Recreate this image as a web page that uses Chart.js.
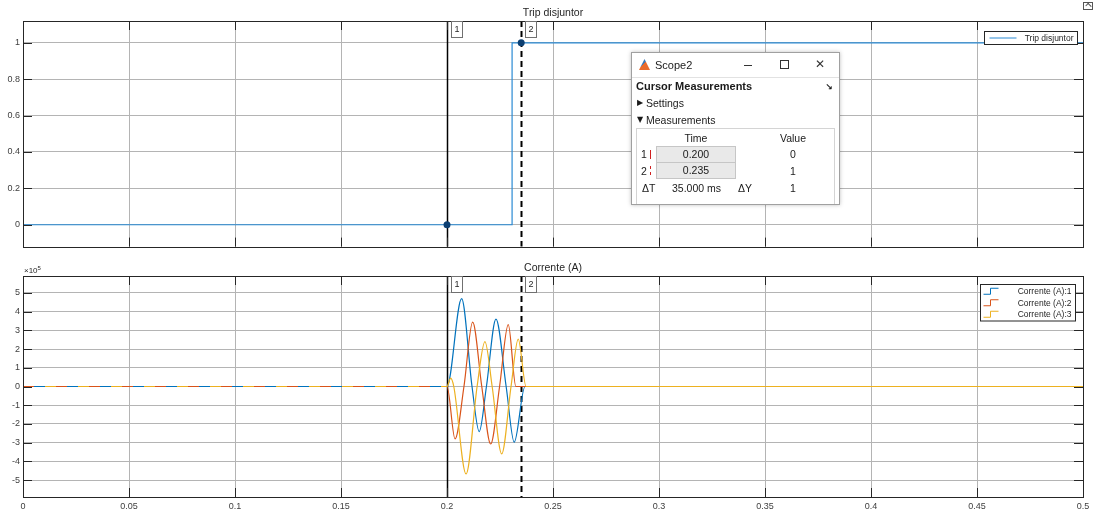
<!DOCTYPE html>
<html>
<head>
<meta charset="utf-8">
<title>Scope2</title>
<script src="https://cdn.jsdelivr.net/npm/chart.js@4.4.1/dist/chart.umd.min.js"></script>
<style>
    body {
        margin: 0;
        width: 1094px;
        height: 513px;
        overflow: hidden;
        background: #fff;
        position: relative;
        font-family: "Liberation Sans", Arial, sans-serif;
        color: #1a1a1a;
    }
    .plot { position: absolute; left: 0; width: 1094px; }
    #tripBox { top: 0; height: 255px; }
    #currentBox { top: 255px; height: 258px; }
    .a { position: absolute; white-space: nowrap; }

    .dock { left: 1083px; top: 2px; width: 8px; height: 6px; border: 1px solid #555; }
    .dock i { position: absolute; left: 2px; top: 1px; width: 4px; height: 3px; border-top: 1px solid #555; border-left: 1px solid #555; transform: rotate(45deg); }

    .dialog {
        left: 631px; top: 52px; width: 209px; height: 153px;
        box-sizing: border-box;
        border: 1px solid #a0a0a0;
        background: #fff;
        box-shadow: 0 0 4px rgba(0, 0, 0, 0.25);
        overflow: hidden;
        font-size: 10.5px;
        line-height: 14px;
    }
    .titlebar { left: 0; top: 0; width: 207px; height: 24px; border-bottom: 1px solid #e2e2e2; }
    .logo { left: 7px; top: 6px; width: 11px; height: 11px; background: linear-gradient(135deg, #3a78b8 0 45%, #e86a2c 45% 100%); clip-path: polygon(0 100%, 50% 0, 100% 100%); }
    .btn-min { left: 112px; top: 12px; width: 8px; height: 1px; background: #333; }
    .btn-max { left: 148px; top: 7px; width: 7px; height: 7px; border: 1px solid #333; }
    .btn-close { left: 183px; top: 4px; font-size: 12px; font-family: "DejaVu Sans", sans-serif; color: #333; }
    .tri { font-size: 8px; font-family: "DejaVu Sans", sans-serif; }
    .table { left: 4px; top: 75px; width: 199px; height: 90px; border: 1px solid #d4d4d4; box-sizing: border-box; }
    .c { text-align: center; width: 40px; }
    .field { width: 78px; height: 15px; line-height: 15px; background: #e9e9e9; border: 1px solid #c6c6c6; text-align: center; }
</style>
</head>
<body>
<div id="tripBox" class="plot"><canvas id="tripChart" width="1094" height="255"></canvas></div>
<div id="currentBox" class="plot"><canvas id="currentChart" width="1094" height="258"></canvas></div>

<div class="a dock"><i></i></div>

<div class="a dialog">
    <div class="a titlebar">
        <div class="a logo"></div>
        <span class="a" style="left:23px; top:5px; font-size:11px;">Scope2</span>
        <div class="a btn-min"></div>
        <div class="a btn-max"></div>
        <span class="a btn-close">✕</span>
    </div>
    <span class="a" style="left:4px; top:26px; font-weight:bold; font-size:11px;">Cursor Measurements</span>
    <span class="a" style="left:193px; top:27px; font-size:9px; font-weight:bold; font-family:'DejaVu Sans',sans-serif;">↘</span>
    <span class="a tri" style="left:5px; top:43px;">▶</span>
    <span class="a" style="left:14px; top:43px;">Settings</span>
    <span class="a tri" style="left:5px; top:60px;">▼</span>
    <span class="a" style="left:14px; top:60px;">Measurements</span>
    <div class="a table">
        <span class="a c" style="left:39px; top:2px;">Time</span>
        <span class="a c" style="left:136px; top:2px;">Value</span>

        <span class="a" style="left:4px; top:18px;">1</span>
        <div class="a" style="left:13px; top:21px; height:9px; border-left:1px solid #d02020;"></div>
        <div class="a field" style="left:19px; top:17px;">0.200</div>
        <span class="a c" style="left:136px; top:18px;">0</span>

        <span class="a" style="left:4px; top:35px;">2</span>
        <div class="a" style="left:13px; top:37px; height:9px; border-left:1px dashed #d02020;"></div>
        <div class="a field" style="left:19px; top:33px;">0.235</div>
        <span class="a c" style="left:136px; top:35px;">1</span>

        <span class="a" style="left:5px; top:52px;">ΔT</span>
        <span class="a" style="left:35px; top:52px;">35.000 ms</span>
        <span class="a" style="left:101px; top:52px;">ΔY</span>
        <span class="a c" style="left:136px; top:52px;">1</span>
    </div>
</div>

<script>
// Axis ticks
const timeTicks = [0, 0.05, 0.1, 0.15, 0.2, 0.25, 0.3, 0.35, 0.4, 0.45, 0.5];
const tripTicks = [0, 0.2, 0.4, 0.6, 0.8, 1];
const currentTicks = [-5e5, -4e5, -3e5, -2e5, -1e5, 0, 1e5, 2e5, 3e5, 4e5, 5e5];

// Trip disjuntor
const tripTime = [0, 0.2307, 0.5];
const tripValue = [0, 1, 1];

// Cursors 1 and 2 (Cursor Measurements panel)
const cursorTime = [0.2, 0.235];
const cursorTrip = [0, 1];

// Corrente (A), in A
const phase1Time = [0, 0.2, 0.2069, 0.2118, 0.2152, 0.2186, 0.2231, 0.2279, 0.2317, 0.2368, 0.5];
const phase1Amps = [0, 0, 4.69e5, 0, -2.41e5, 0, 3.6e5, 0, -2.97e5, 0, 0];
const phase2Time = [0, 0.2, 0.2038, 0.2080, 0.2121, 0.2164, 0.2206, 0.2248, 0.2289, 0.2325, 0.5];
const phase2Amps = [0, 0, -2.8e5, 0, 3.44e5, 0, -3.07e5, 0, 3.3e5, 0, 0];
const phase3Time = [0, 0.2, 0.2017, 0.2032, 0.2090, 0.2142, 0.2179, 0.2213, 0.2258, 0.2302, 0.2336, 0.2373, 0.5];
const phase3Amps = [0, 0, 0.45e5, 0, -4.67e5, 0, 2.4e5, 0, -3.6e5, 0, 2.53e5, 0, 0];

const FONT = '"Liberation Sans", Arial, sans-serif';
const pts = (ts, vs) => ts.map((t, i) => ({ x: t, y: vs[i] }));

// dashed look of the overlapping zero lines before the fault
const beforeFault = (dash) => (ctx) => ctx.p1.parsed.x <= 0.2 ? dash : undefined;

// Scope-style frame: cursors, inner ticks, border, title, legend
const scopeFrame = {
    id: 'scopeFrame',
    beforeDatasetsDraw(chart) {
        const { ctx, chartArea: a, scales: { x } } = chart;
        ctx.save();
        ctx.strokeStyle = '#000';
        cursorTime.forEach((t, i) => {
            const px = Math.round(x.getPixelForValue(t)) + 0.5;
            ctx.beginPath();
            ctx.lineWidth = i === 0 ? 1.5 : 2;
            ctx.setLineDash(i === 0 ? [] : [6, 4]);
            ctx.moveTo(px, a.top);
            ctx.lineTo(px, a.bottom);
            ctx.stroke();
        });
        ctx.restore();
    },
    afterDatasetsDraw(chart, args, opts) {
        const { ctx, chartArea: a, scales: { x, y } } = chart;
        ctx.save();

        // inner tick marks
        ctx.strokeStyle = '#262626';
        ctx.lineWidth = 1;
        ctx.beginPath();
        timeTicks.forEach(t => {
            const px = Math.round(x.getPixelForValue(t)) + 0.5;
            ctx.moveTo(px, a.top); ctx.lineTo(px, a.top + 9);
            ctx.moveTo(px, a.bottom); ctx.lineTo(px, a.bottom - 9);
        });
        y.ticks.forEach(tk => {
            const py = Math.round(y.getPixelForValue(tk.value)) + 0.5;
            ctx.moveTo(a.left, py); ctx.lineTo(a.left + 9, py);
            ctx.moveTo(a.right, py); ctx.lineTo(a.right - 9, py);
        });
        ctx.stroke();
        ctx.strokeRect(Math.round(a.left) + 0.5, Math.round(a.top) + 0.5, Math.round(a.width), Math.round(a.height));

        // title
        ctx.fillStyle = '#262626';
        ctx.font = '10.5px ' + FONT;
        ctx.textAlign = 'center';
        ctx.textBaseline = 'middle';
        ctx.fillText(opts.title, (a.left + a.right) / 2, a.top - 8);

        // exponent
        if (opts.exponent) {
            ctx.textAlign = 'left';
            ctx.font = '8px ' + FONT;
            ctx.fillText('×10', a.left + 1, a.top - 5);
            const w = ctx.measureText('×10').width;
            ctx.font = '6px ' + FONT;
            ctx.fillText(opts.exponent, a.left + 1 + w, a.top - 8);
        }

        // cursor label boxes
        ctx.font = '9px ' + FONT;
        ctx.textAlign = 'center';
        cursorTime.forEach((t, i) => {
            const bx = Math.round(x.getPixelForValue(t)) + 4.5;
            ctx.fillStyle = '#fff';
            ctx.fillRect(bx, a.top + 0.5, 11, 16);
            ctx.strokeStyle = '#707070';
            ctx.strokeRect(bx, a.top + 0.5, 11, 16);
            ctx.fillStyle = '#262626';
            ctx.fillText(String(i + 1), bx + 5.5, a.top + 9);
        });

        // legend
        const L = opts.legend;
        const items = chart.data.datasets.filter(d => d.legend !== false);
        const bx = Math.round(a.right - L.right - L.width) + 0.5;
        const by = Math.round(a.top + L.top) + 0.5;
        const bh = items.length * L.rowH + 2;
        ctx.fillStyle = '#fff';
        ctx.fillRect(bx, by, L.width, bh);
        ctx.strokeStyle = '#262626';
        ctx.strokeRect(bx, by, L.width, bh);
        ctx.font = '8.5px ' + FONT;
        ctx.textAlign = 'right';
        items.forEach((d, i) => {
            const cy = by + 1 + L.rowH * (i + 0.5);
            ctx.strokeStyle = d.borderColor;
            ctx.lineWidth = 1;
            ctx.beginPath();
            if (L.step) {
                ctx.moveTo(bx + 3, cy + 3); ctx.lineTo(bx + 10, cy + 3);
                ctx.lineTo(bx + 10, cy - 3); ctx.lineTo(bx + 18, cy - 3);
            } else {
                ctx.moveTo(bx + 5, cy); ctx.lineTo(bx + 5 + L.sampleW, cy);
            }
            ctx.stroke();
            ctx.fillStyle = '#262626';
            ctx.fillText(d.label, bx + L.width - 4, cy + 0.5);
        });
        ctx.restore();
    }
};

function scopeOptions(yMin, yMax, yTicks, yLabel, xHeight, showXLabels, frame) {
    return {
        responsive: false,
        animation: false,
        devicePixelRatio: 1,
        events: [],
        layout: { padding: { top: 21, right: 11, left: 0, bottom: 0 } },
        plugins: { legend: { display: false }, tooltip: { enabled: false }, scopeFrame: frame },
        scales: {
            x: {
                type: 'linear',
                min: 0,
                max: 0.5,
                afterBuildTicks: s => { s.ticks = timeTicks.map(v => ({ value: v })); },
                afterFit: s => { s.height = xHeight; },
                border: { display: false },
                grid: { color: '#b4b4b4', drawTicks: false },
                ticks: {
                    display: showXLabels,
                    padding: 4,
                    maxRotation: 0,
                    autoSkip: false,
                    color: '#404040',
                    font: { size: 9, family: FONT },
                    callback: v => String(v)
                }
            },
            y: {
                min: yMin,
                max: yMax,
                afterBuildTicks: s => { s.ticks = yTicks.map(v => ({ value: v })); },
                afterFit: s => { s.width = 23; },
                border: { display: false },
                grid: { color: '#b4b4b4', drawTicks: false },
                ticks: {
                    padding: 3,
                    autoSkip: false,
                    color: '#404040',
                    font: { size: 9, family: FONT },
                    callback: yLabel
                }
            }
        }
    };
}

// Trip disjuntor
new Chart(document.getElementById('tripChart'), {
    type: 'line',
    data: {
        datasets: [{
            label: 'Trip disjuntor',
            data: pts(tripTime, tripValue),
            borderColor: '#2a8ad4',
            borderWidth: 1.2,
            stepped: true,
            pointRadius: 0,
            order: 1
        }, {
            label: 'cursors',
            legend: false,
            data: pts(cursorTime, cursorTrip),
            showLine: false,
            pointRadius: 3.5,
            pointBackgroundColor: '#0c3f72',
            pointBorderWidth: 0,
            order: 0
        }]
    },
    options: scopeOptions(-0.12, 1.12, tripTicks, v => String(v), 7, false, {
        title: 'Trip disjuntor',
        legend: { width: 93, right: 6, top: 10, rowH: 11, sampleW: 27, step: false }
    }),
    plugins: [scopeFrame]
});

// Corrente (A)
new Chart(document.getElementById('currentChart'), {
    type: 'line',
    data: {
        datasets: [{
            label: 'Corrente (A):1',
            data: pts(phase1Time, phase1Amps),
            borderColor: '#0072BD',
            borderWidth: 1.2,
            cubicInterpolationMode: 'monotone',
            pointRadius: 0,
            order: 2
        }, {
            label: 'Corrente (A):2',
            data: pts(phase2Time, phase2Amps),
            borderColor: '#D95319',
            borderWidth: 1.2,
            cubicInterpolationMode: 'monotone',
            pointRadius: 0,
            segment: { borderDash: beforeFault([11, 22]) },
            order: 1
        }, {
            label: 'Corrente (A):3',
            data: pts(phase3Time, phase3Amps),
            borderColor: '#EDB120',
            borderWidth: 1.2,
            cubicInterpolationMode: 'monotone',
            pointRadius: 0,
            segment: { borderDash: beforeFault([11, 22]), borderDashOffset: ctx => ctx.p1.parsed.x <= 0.2 ? 11 : undefined },
            order: 0
        }]
    },
    options: scopeOptions(-5.9e5, 5.9e5, currentTicks, v => String(v / 1e5), 16, true, {
        title: 'Corrente (A)',
        exponent: '5',
        legend: { width: 95, right: 8, top: 8, rowH: 11.5, step: true }
    }),
    plugins: [scopeFrame]
});
</script>
</body>
</html>
